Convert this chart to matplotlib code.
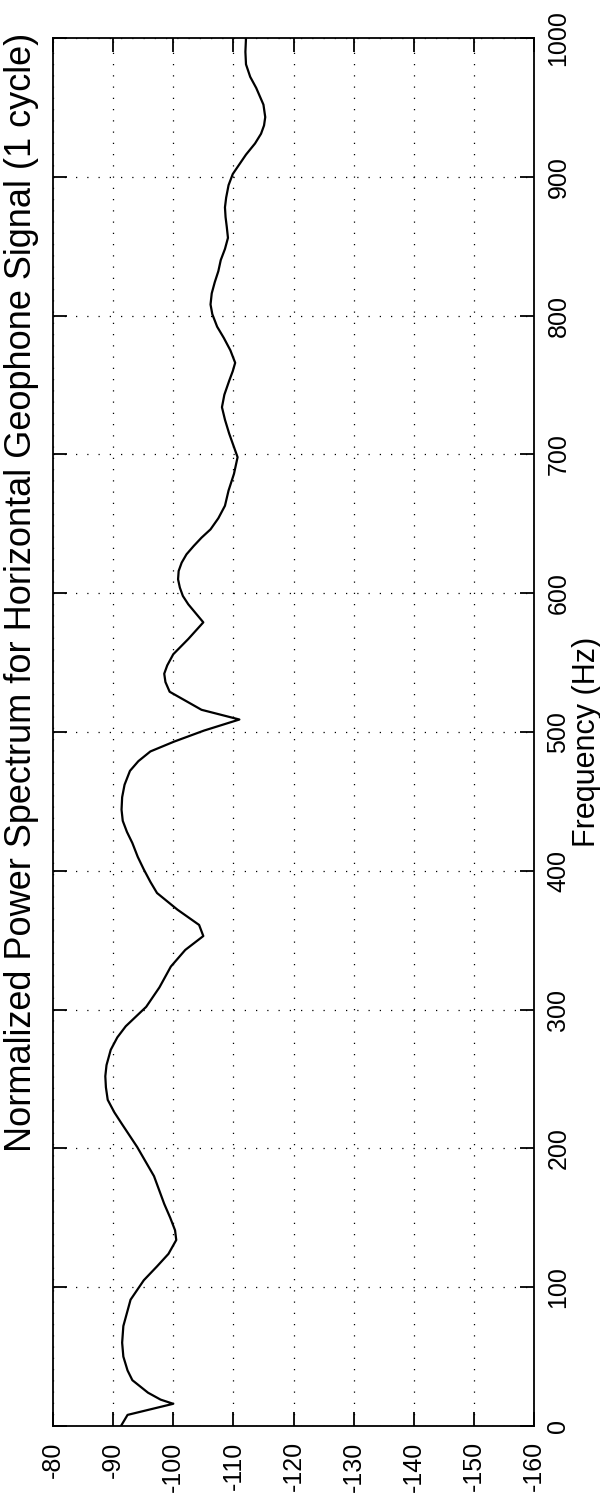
import matplotlib
matplotlib.use("Agg")
import matplotlib.pyplot as plt

plt.rcParams['font.family'] = ['Liberation Sans', 'DejaVu Sans']
plt.rcParams['axes.unicode_minus'] = False

# Data: frequency (Hz) and normalized power (dB)
freq_hz = [0, 8, 16, 19, 24, 33, 40, 50, 60, 72, 91, 105, 115, 124, 134, 141,
           150, 160, 180, 201, 218, 226, 235, 244, 252, 260, 271, 280, 288,
           295, 302, 316, 331, 343, 353, 361, 372, 384, 392, 401, 410, 420,
           428, 436, 444, 453, 462, 472, 479, 486, 493, 501, 509, 516, 529,
           536, 542, 548, 556, 567, 579, 592, 598, 604, 610, 616, 622, 628,
           634, 640, 646, 654, 663, 674, 686, 698, 715, 725, 734, 743, 753,
           760, 766, 775, 784, 792, 801, 808, 816, 824, 832, 840, 848, 856,
           864, 871, 878, 885, 894, 902, 909, 916, 924, 931, 937, 943, 952,
           964, 972, 981, 990, 1000]
power_db = [-91.3, -92.4, -100.0, -97.9, -95.8, -93.2, -92.4, -91.7, -91.5,
            -91.7, -92.9, -95.1, -97.3, -99.2, -100.5, -100.3, -99.5, -98.5,
            -96.8, -94.0, -91.4, -90.2, -89.1, -88.8, -88.7, -88.9, -89.6,
            -90.7, -92.1, -93.8, -95.5, -97.7, -99.6, -102.0, -105.0, -104.3,
            -100.7, -97.3, -96.2, -95.1, -94.1, -93.2, -92.3, -91.6, -91.4,
            -91.5, -91.9, -92.8, -94.2, -96.2, -100.1, -105.1, -111.0, -104.7,
            -99.4, -98.7, -98.5, -99.0, -100.0, -102.5, -105.0, -102.5,
            -101.6, -101.1, -100.8, -100.9, -101.4, -102.2, -103.4, -104.7,
            -106.2, -107.5, -108.6, -109.2, -110.1, -110.7, -109.3, -108.6,
            -108.1, -108.5, -109.3, -109.9, -110.3, -109.5, -108.4, -107.3,
            -106.5, -106.2, -106.4, -106.9, -107.5, -107.9, -108.6, -109.1,
            -108.9, -108.7, -108.6, -108.8, -109.2, -109.9, -111.0, -112.1,
            -113.6, -114.6, -115.1, -115.3, -115.0, -113.8, -112.8, -112.1,
            -112.0, -112.1]

db_ticks = [-80, -90, -100, -110, -120, -130, -140, -150, -160]
freq_ticks = [0, 100, 200, 300, 400, 500, 600, 700, 800, 900, 1000]

title_text = "Normalized Power Spectrum for Horizontal Geophone Signal (1 cycle)"
freq_label = "Frequency (Hz)"

W, H = 600, 1505
fig = plt.figure(figsize=(W / 100, H / 100), dpi=100)
ax = fig.add_axes([53 / W, 1 - 1426 / H, 481 / W, 1388 / H])

ax.plot(power_db, freq_hz, color='black', linewidth=1.6)

ax.set_xlim(-80, -160)
ax.set_ylim(0, 1000)
ax.set_xticks(db_ticks)
ax.set_xticklabels([str(v) for v in db_ticks])
ax.set_yticks(freq_ticks)
ax.set_yticklabels([str(v) for v in freq_ticks])

ax.grid(True, color='black', linestyle=(0, (1, 8)), linewidth=0.9)
for s in ax.spines.values():
    s.set_linewidth(1.3)

ax.tick_params(axis='both', direction='in', length=10, width=1.3,
               top=True, bottom=True, left=True, right=True, labelsize=18)
ax.tick_params(axis='x', labelrotation=90, pad=11)
ax.tick_params(axis='y', labelleft=False, labelright=True, labelrotation=90, pad=9)
for lbl in ax.get_yticklabels():
    lbl.set_verticalalignment('center')

fig.text(22 / W, 1 - 592 / H, title_text, rotation=90, ha='center', va='center',
         fontsize=26)
fig.text(587 / W, 1 - 742 / H, freq_label, rotation=90, ha='center', va='center',
         fontsize=22)

fig.savefig('out.png', dpi=100)
